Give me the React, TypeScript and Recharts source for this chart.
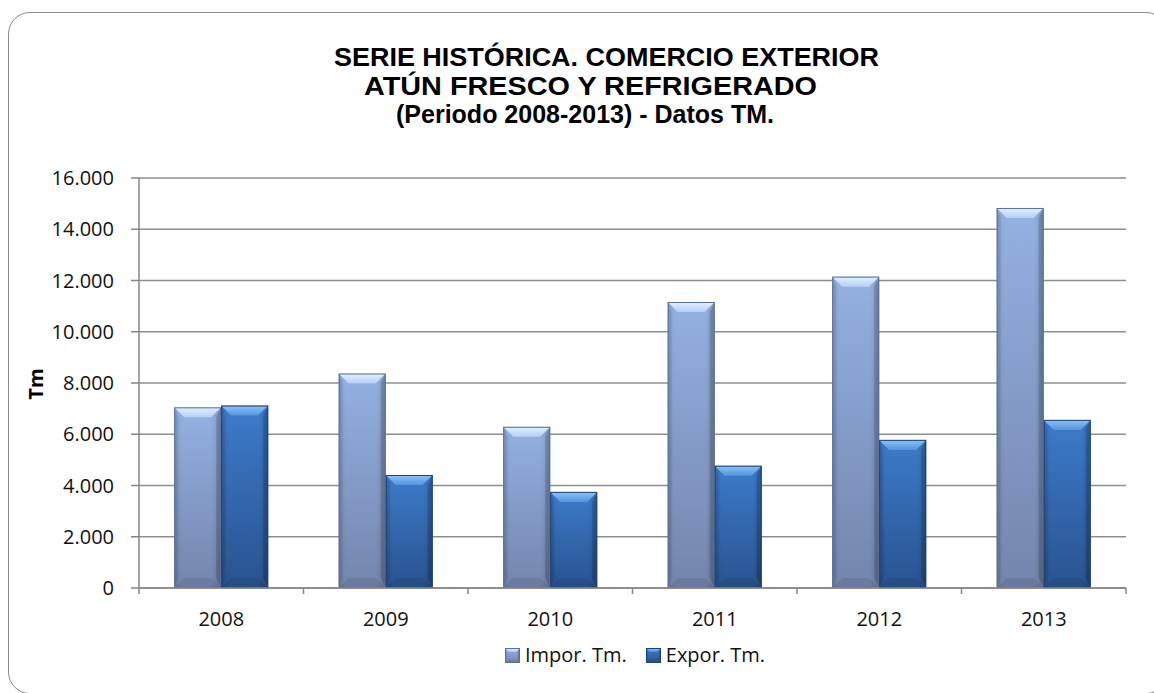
import React from 'react';
import { BarChart, Bar, XAxis, YAxis, CartesianGrid, Legend } from 'recharts';

const years = ['2008', '2009', '2010', '2011', '2012', '2013'];
const imporTm = [7050, 8370, 6290, 11160, 12150, 14830];
const exporTm = [7120, 4410, 3750, 4770, 5780, 6560];
const yTicks = [0, 2000, 4000, 6000, 8000, 10000, 12000, 14000, 16000];
const titleLines = [
  'SERIE HISTÓRICA. COMERCIO EXTERIOR',
  'ATÚN FRESCO Y REFRIGERADO',
  '(Periodo 2008-2013) - Datos TM.',
];
const seriesNames = ['Impor. Tm.', 'Expor. Tm.'];
const yAxisTitle = 'Tm';

const data = years.map((y, i) => ({ year: y, impor: imporTm[i], expor: exporTm[i] }));

const FONT = '"Open Sans", sans-serif';
const AXIS = '#868686';

const PAL: Record<string, any> = {
  impor: { top: '#94b1e2', bottom: '#7385ac', bevT: '#e2f1ff', bevB: '#b4d0f4', edge: '#5b6f96' },
  expor: { top: '#3d7bcb', bottom: '#29538f', bevT: '#8cc4f8', bevB: '#5494de', edge: '#1d4372' },
};

const fmt = (v: number) => String(v).replace(/\B(?=(\d{3})+(?!\d))/g, '.');

function bevelShape(key: string, bevel: number) {
  return (props: any) => {
    const { x, y, width: w, height: h } = props;
    if (!w || !h || h <= 0) return <g />;
    const b = Math.min(bevel, w / 4, h / 2);
    const p = PAL[key];
    return (
      <g>
        <rect x={x} y={y} width={w} height={h} fill={`url(#v-${key})`} />
        <rect x={x} y={y} width={w} height={h} fill="url(#hshade)" />
        <polygon
          points={`${x},${y} ${x + w},${y} ${x + w - b},${y + b} ${x + b},${y + b}`}
          fill={`url(#t-${key})`}
        />
        <polygon
          points={`${x},${y + h} ${x + w},${y + h} ${x + w - b},${y + h - b} ${x + b},${y + h - b}`}
          fill="rgba(0,0,0,0.08)"
        />
        <polygon
          points={`${x},${y} ${x + b * 0.4},${y + b} ${x + b * 0.4},${y + h - b} ${x},${y + h}`}
          fill="rgba(0,0,0,0.08)"
        />
        <polygon
          points={`${x + w},${y} ${x + w - b * 0.5},${y + b} ${x + w - b * 0.5},${y + h - b} ${x + w},${y + h}`}
          fill="rgba(0,0,0,0.16)"
        />
        <rect x={x + 0.5} y={y + 0.5} width={w - 1} height={h - 1} fill="none" stroke={p.edge} strokeWidth={1} />
      </g>
    );
  };
}

const XTick = (props: any) => {
  const { x, y, payload } = props;
  const off = payload && payload.offset ? payload.offset : 0;
  const ay = y - 24;
  const last = payload.value === years[years.length - 1];
  return (
    <g>
      {off ? <line x1={x - off} x2={x - off} y1={ay} y2={ay + 6} stroke={AXIS} strokeWidth={1.5} /> : null}
      {off && last ? <line x1={x + off} x2={x + off} y1={ay} y2={ay + 6} stroke={AXIS} strokeWidth={1.5} /> : null}
      <text x={x} y={y} dy="0.71em" textAnchor="middle" fill="#111" fontFamily={FONT} fontSize={20}>
        {payload.value}
      </text>
    </g>
  );
};

const LegendIcon = ({ k }: { k: string }) => {
  const S = bevelShape(k, 4);
  return (
    <svg width={15} height={15} style={{ display: 'block' }}>
      <S x={0} y={0} width={15} height={15} />
    </svg>
  );
};

const LegendContent = () => (
  <div
    style={{
      display: 'flex',
      alignItems: 'center',
      height: 24,
      paddingLeft: 505,
      fontFamily: FONT,
      fontSize: 20,
      color: '#111',
      lineHeight: '24px',
    }}
  >
    {['impor', 'expor'].map((k, i) => (
      <div key={k} style={{ display: 'flex', alignItems: 'center', marginRight: 19 }}>
        <LegendIcon k={k} />
        <span style={{ marginLeft: 5 }}>{seriesNames[i]}</span>
      </div>
    ))}
  </div>
);

export default function App() {
  return (
    <div
      style={{
        position: 'absolute',
        left: 0,
        top: 0,
        width: 1154,
        height: 693,
        overflow: 'hidden',
        background: '#fff',
      }}
    >
      <div
        style={{
          position: 'absolute',
          left: 8,
          top: 12,
          width: 1160,
          height: 682,
          boxSizing: 'border-box',
          border: '1.5px solid #8a8a8a',
          borderRadius: 22,
        }}
      />
      <div style={{ position: 'absolute', left: 0, top: 0 }}>
        <BarChart
          width={1154}
          height={693}
          data={data}
          margin={{ top: 178, right: 28, left: 59, bottom: 26 }}
          barCategoryGap="21.4%"
          barGap={0}
        >
          <CartesianGrid vertical={false} stroke="#8e8e8e" strokeWidth={1.5} />
          <XAxis
            dataKey="year"
            height={55}
            tickLine={false}
            tickSize={6}
            tickMargin={18}
            axisLine={{ stroke: AXIS, strokeWidth: 1.5 }}
            tick={<XTick />}
            interval={0}
          />
          <YAxis
            width={80}
            domain={[0, 16000]}
            ticks={yTicks}
            interval={0}
            tickFormatter={fmt}
            tickSize={8}
            tickMargin={17}
            axisLine={{ stroke: AXIS, strokeWidth: 1.5 }}
            tickLine={{ stroke: AXIS, strokeWidth: 1.5 }}
            tick={{ fill: '#111', fontFamily: FONT, fontSize: 20 }}
          />
          <Legend
            verticalAlign="bottom"
            height={24}
            wrapperStyle={{ left: 0, width: 1154, height: 24 }}
            content={<LegendContent />}
          />
          <Bar dataKey="impor" name={seriesNames[0]} fill="#8eabdc" isAnimationActive={false} shape={bevelShape('impor', 10)} />
          <Bar dataKey="expor" name={seriesNames[1]} fill="#3572c0" isAnimationActive={false} shape={bevelShape('expor', 10)} />
        </BarChart>
      </div>
      <svg
        width={1154}
        height={693}
        style={{ position: 'absolute', left: 0, top: 0, pointerEvents: 'none' }}
      >
        <defs>
          {Object.keys(PAL).map((k) => (
            <React.Fragment key={k}>
              <linearGradient id={`v-${k}`} x1="0" y1="0" x2="0" y2="1">
                <stop offset="0" stopColor={PAL[k].top} />
                <stop offset="1" stopColor={PAL[k].bottom} />
              </linearGradient>
              <linearGradient id={`t-${k}`} x1="0" y1="0" x2="0" y2="1">
                <stop offset="0" stopColor={PAL[k].bevT} />
                <stop offset="1" stopColor={PAL[k].bevB} />
              </linearGradient>
            </React.Fragment>
          ))}
          <linearGradient id="hshade" x1="0" y1="0" x2="1" y2="0">
            <stop offset="0" stopColor="#000" stopOpacity={0.1} />
            <stop offset="0.15" stopColor="#000" stopOpacity={0} />
            <stop offset="0.8" stopColor="#000" stopOpacity={0} />
            <stop offset="1" stopColor="#000" stopOpacity={0.15} />
          </linearGradient>
        </defs>
        <g fontFamily='"Liberation Sans", Arial, sans-serif' fontWeight="bold" fontSize={25} fill="#000">
          <text x={334} y={66} textLength={545} lengthAdjust="spacingAndGlyphs">{titleLines[0]}</text>
          <text x={364} y={95} textLength={453} lengthAdjust="spacingAndGlyphs">{titleLines[1]}</text>
          <text x={396} y={123} textLength={378} lengthAdjust="spacingAndGlyphs">{titleLines[2]}</text>
        </g>
        <text
          x={43}
          y={384}
          transform="rotate(-90 43 384)"
          textAnchor="middle"
          fontFamily={FONT}
          fontWeight="bold"
          fontSize={20}
          fill="#000"
        >
          {yAxisTitle}
        </text>
      </svg>
    </div>
  );
}
